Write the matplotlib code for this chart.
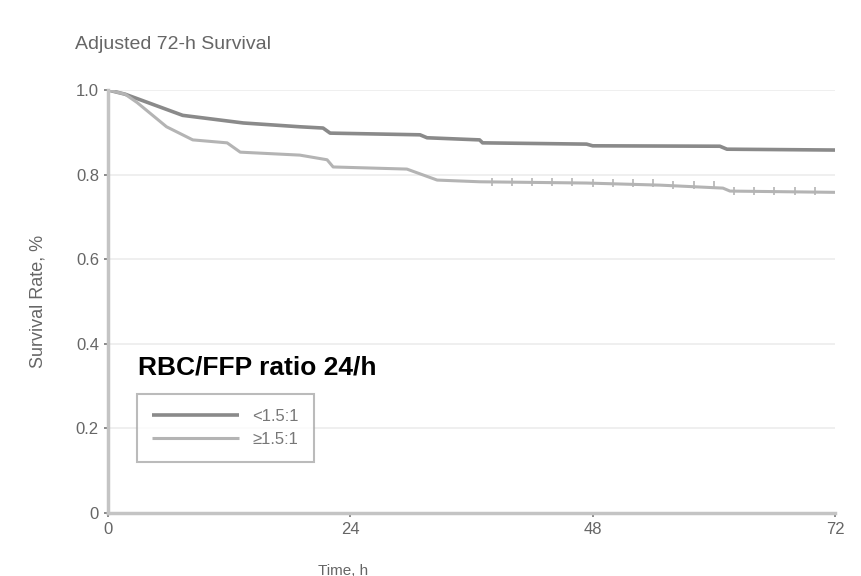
import matplotlib
matplotlib.use("Agg")
import matplotlib.pyplot as plt
import numpy as np

# Kaplan-Meier style step points (time in h, survival)
t_low = [0, 1.7, 7.4, 13.4, 19.0, 21.3, 22.0, 30.9, 31.6, 36.8, 37.1, 47.4, 48.0, 60.6, 61.3, 72]
s_low = [1.0, 0.99, 0.94, 0.922, 0.913, 0.91, 0.898, 0.894, 0.887, 0.882, 0.875, 0.872, 0.868, 0.867, 0.86, 0.858]

t_high = [0, 1.7, 2.9, 5.8, 8.4, 11.8, 13.1, 19.0, 21.7, 22.3, 29.6, 32.6, 36.8, 47.4, 54.7, 60.9, 61.6, 72]
s_high = [1.0, 0.99, 0.97, 0.913, 0.882, 0.875, 0.853, 0.846, 0.835, 0.818, 0.813, 0.787, 0.783, 0.78, 0.775, 0.768, 0.761, 0.758]

# censoring marks on the >=1.5:1 curve
cens_t = [38, 40, 42, 44, 46, 48, 50, 52, 54, 56, 58, 60, 62, 64, 66, 68, 70]

labels = ["<1.5:1", "\u22651.5:1"]
xticks = [0, 24, 48, 72]
yticks = [0, 0.2, 0.4, 0.6, 0.8, 1.0]
ytick_labels = ["0", "0.2", "0.4", "0.6", "0.8", "1.0"]

plt.rcParams['font.family'] = ['Liberation Sans', 'DejaVu Sans']

fig = plt.figure(figsize=(8.61, 5.76), dpi=100)
ax = fig.add_axes([0.1254, 0.1094, 0.8444, 0.7344])

for y in yticks[1:]:
    ax.axhline(y, color="#ececec", lw=1.2, zorder=0)

ax.plot(t_low, s_low, color="#8a8a8a", lw=2.6, label=labels[0], solid_capstyle="butt")
ax.plot(t_high, s_high, color="#b4b4b4", lw=2.2, label=labels[1], solid_capstyle="butt")

# censoring ticks placed on the step curve
cens_s = [s_high[np.searchsorted(t_high, c, side="right") - 1] for c in cens_t]
ax.plot(cens_t, cens_s, ls="none", marker="|", ms=6, color="#b4b4b4", mew=1.2)

ax.set_xlim(0, 72)
ax.set_ylim(0, 1.0)
ax.set_xticks(xticks)
ax.set_yticks(yticks)
ax.set_yticklabels(ytick_labels)
ax.tick_params(colors="#777777", labelcolor="#666666", labelsize=12, length=3, width=1.2)

for side in ["top", "right"]:
    ax.spines[side].set_visible(False)
for side in ["left", "bottom"]:
    ax.spines[side].set_color("#c4c4c4")
    ax.spines[side].set_linewidth(2.5)

ax.set_xlabel("Time, h", color="#666666", fontsize=11)
ax.xaxis.set_label_coords(0.323, -0.12)
ax.set_ylabel("Survival Rate, %", color="#666666", fontsize=13)
ax.yaxis.set_label_coords(-0.085, 0.5)

fig.text(0.087, 0.915, "Adjusted 72-h Survival", color="#666666", fontsize=14)

ax.text(0.041, 0.343, "RBC/FFP ratio 24/h", transform=ax.transAxes, fontsize=19,
        fontweight="bold", color="black", va="center", ha="left")

leg = ax.legend(loc="lower left", bbox_to_anchor=(0.04, 0.12), borderaxespad=0,
                frameon=True, fancybox=False, fontsize=12, handlelength=5.2,
                borderpad=0.9, labelspacing=0.5)
leg.get_frame().set_edgecolor("#aaaaaa")
leg.get_frame().set_linewidth(1.5)
for txt in leg.get_texts():
    txt.set_color("#777777")

fig.savefig("out.png", dpi=100)
